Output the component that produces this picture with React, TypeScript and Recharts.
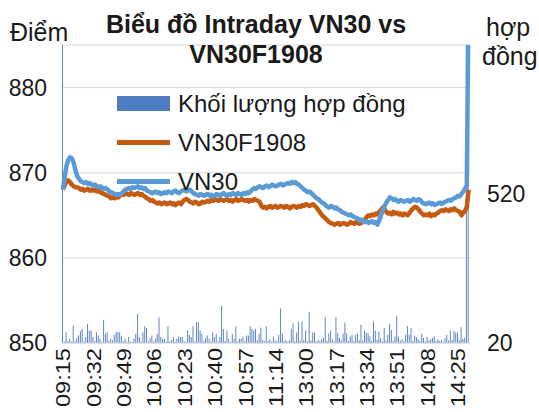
import { Bar, CartesianGrid, ComposedChart, Legend, Line, XAxis, YAxis } from "recharts";

const FONT = '"Liberation Sans", Arial, sans-serif';
const TEXT = "#1a1a1a";

// trading sessions, one point per minute, plus the ATC print
const SESSIONS: [string, string][] = [
  ["09:15", "11:30"],
  ["13:00", "14:30"],
];
const ATC_TIME = "14:45";

const VOLUME = [
  1100, 24, 56, 26, 34, 25, 78, 27, 37, 45,
  60, 67, 25, 40, 84, 62, 62, 40, 26, 56,
  45, 34, 24, 98, 51, 56, 27, 34, 29, 47,
  56, 58, 56, 43, 26, 34, 24, 40, 25, 23,
  34, 51, 117, 40, 24, 56, 76, 70, 26, 36,
  45, 25, 34, 51, 106, 40, 34, 34, 24, 76,
  25, 29, 40, 23, 34, 43, 40, 40, 26, 24,
  62, 47, 40, 76, 25, 90, 90, 62, 51, 27,
  36, 45, 34, 26, 56, 40, 51, 25, 40, 145,
  67, 27, 62, 34, 24, 51, 34, 76, 25, 34,
  34, 40, 26, 45, 45, 76, 67, 62, 67, 28,
  51, 72, 30, 26, 77, 28, 33, 25, 42, 28,
  26, 48, 136, 53, 27, 30, 24, 28, 67, 86,
  26, 55, 92, 27, 92, 30, 62, 26, 125, 28,
  55, 55, 25, 30, 26, 33, 37, 108, 27, 53,
  62, 33, 26, 106, 53, 37, 28, 51, 89, 53,
  27, 42, 48, 26, 48, 53, 29, 81, 28, 62,
  55, 53, 42, 27, 92, 62, 30, 59, 37, 26,
  70, 28, 48, 84, 64, 27, 42, 111, 42, 28,
  33, 26, 48, 77, 48, 70, 27, 44, 40, 33,
  26, 51, 37, 25, 40, 28, 33, 37, 42, 26,
  33, 27, 31, 24, 37, 48, 28, 62, 30, 62,
  55, 55, 30, 73, 34, 38, 1100, 1100,
];

const VN30F1908 = [
  868.0, 868.5, 869.0, 869.1, 868.9, 868.6, 868.4, 868.3, 868.3, 868.2,
  868.0, 868.1, 867.9, 868.0, 868.1, 867.9, 868.0, 867.9, 868.0, 867.8,
  867.9, 867.7, 867.6, 867.5, 867.4, 867.3, 867.2, 867.0, 867.1, 867.0,
  867.2, 867.1, 867.3, 867.5, 867.4, 867.6, 867.5, 867.4, 867.6, 867.5,
  867.4, 867.5, 867.6, 867.4, 867.5, 867.3, 867.2, 867.0, 866.9, 866.7,
  866.8, 866.6, 866.5, 866.4, 866.5, 866.3, 866.4, 866.5, 866.3, 866.4,
  866.5, 866.3, 866.4, 866.2, 866.4, 866.5, 866.3, 866.6, 866.8, 866.9,
  866.8, 866.6, 866.5, 866.4, 866.6, 866.5, 866.3, 866.4, 866.6, 866.5,
  866.6, 866.7, 866.6, 866.8, 866.7, 866.9, 866.8, 866.7, 866.9, 866.8,
  866.7, 866.8, 866.9, 866.7, 866.8, 866.6, 866.8, 866.9, 866.7, 866.8,
  866.9, 866.8, 866.7, 866.8, 866.6, 866.8, 866.7, 866.9, 866.8, 866.7,
  866.6, 866.1, 865.9, 866.0, 865.8, 866.0, 866.1, 865.9, 866.0, 866.1,
  865.9, 866.0, 866.1, 866.0, 865.9, 866.1, 866.0, 865.8, 866.0, 866.1,
  866.0, 865.9, 866.1, 866.0, 866.2, 866.1, 866.3, 866.2, 866.1, 866.2,
  866.3, 866.1, 865.9, 865.6, 865.3, 865.0, 864.8, 864.6, 864.4, 864.2,
  864.1, 864.0, 863.9, 864.0, 864.1, 863.9, 864.0, 864.1, 864.0, 863.9,
  864.0, 864.2, 864.1, 864.0, 864.2, 864.1, 864.0, 864.1, 864.3, 864.5,
  864.8, 865.0, 864.9, 865.1, 865.0, 865.2, 865.1, 865.4, 865.6, 865.9,
  865.7, 865.4, 865.2, 865.3, 865.1, 865.4, 865.2, 865.3, 865.1, 865.2,
  865.0, 865.2, 865.1, 865.0, 865.3, 865.6, 865.8, 866.0, 865.9, 865.7,
  865.4, 865.2, 865.0, 865.1, 865.0, 865.2, 864.9, 865.1, 865.0, 865.2,
  865.3, 865.5, 865.6, 865.5, 865.7, 865.6, 865.5, 865.7, 865.6, 865.8,
  865.6, 865.5, 865.4, 865.0, 865.3, 865.5, 866.0, 868.0,
];

const VN30 = [
  868.0, 869.5, 870.8, 871.5, 871.8, 871.7, 871.2, 870.3, 869.6, 869.3,
  869.0, 868.9, 868.8, 868.9, 868.7, 868.8, 868.6, 868.5, 868.6, 868.4,
  868.3, 868.4, 868.2, 868.1, 868.2, 868.0, 867.8, 867.7, 867.6, 867.5,
  867.4, 867.5, 867.4, 867.6, 867.8, 868.0, 868.1, 868.2, 868.1, 868.3,
  868.2, 868.3, 868.4, 868.2, 868.3, 868.1, 868.2, 867.9, 867.8, 867.7,
  867.6, 867.7, 867.8, 867.6, 867.7, 867.5, 867.6, 867.7, 867.6, 867.8,
  867.7, 867.6, 867.8, 867.9, 867.7, 867.6, 867.8, 867.9, 868.0, 867.8,
  867.9, 868.0, 867.8, 867.6, 867.5, 867.4, 867.3, 867.5, 867.4, 867.3,
  867.4, 867.5, 867.3, 867.4, 867.2, 867.3, 867.5, 867.4, 867.3, 867.5,
  867.6, 867.4, 867.3, 867.5, 867.4, 867.6, 867.5, 867.4, 867.6, 867.5,
  867.4, 867.6, 867.5, 867.7, 867.6, 867.8, 868.0, 868.2, 868.1, 868.3,
  868.4, 868.3, 868.2, 868.4, 868.5, 868.3, 868.4, 868.6, 868.5, 868.4,
  868.5, 868.6, 868.7, 868.5, 868.6, 868.7, 868.8, 868.7, 868.9, 868.8,
  868.9, 868.7, 868.6, 868.4, 868.2, 868.0, 867.9, 867.7, 867.8, 867.6,
  867.4, 867.2, 867.0, 866.9, 866.7, 866.5, 866.4, 866.2, 866.0, 865.9,
  866.1, 866.0, 865.8, 865.9, 865.7, 865.6, 865.4, 865.3, 865.2, 865.1,
  865.0, 865.1, 864.9, 864.8, 864.7, 864.6, 864.4, 864.5, 864.3, 864.2,
  864.3, 864.1, 864.2, 864.3, 864.1, 864.2, 863.9, 864.4, 865.0, 865.6,
  866.1, 866.5, 866.8, 867.1, 867.0, 866.8, 866.9, 866.7, 866.6, 866.8,
  866.7, 866.6, 866.7, 866.8, 866.6, 866.7, 866.9, 866.8, 866.7, 866.9,
  866.8, 866.5, 866.4, 866.3, 866.4, 866.5, 866.3, 866.4, 866.2, 866.3,
  866.4, 866.5, 866.3, 866.5, 866.6, 866.7, 866.8, 866.7, 866.9, 867.0,
  867.1, 867.3, 867.2, 867.5, 867.8, 868.1, 868.5, 892.0,
];

const LEFT_TICKS = [850, 860, 870, 880];
const RIGHT_TICKS = [20, 520];

const COLORS = { volume: "#5f86c8", vn30f: "#c55a11", vn30: "#5b9bd5" };

const LEGEND_ITEMS = [
  { label: "Khối lượng hợp đồng", color: "#4f7cc2", kind: "bar" },
  { label: "VN30F1908", color: COLORS.vn30f, kind: "line" },
  { label: "VN30", color: COLORS.vn30, kind: "line" },
];

const toMinutes = (t: string) => {
  const [h, m] = t.split(":").map(Number);
  return h * 60 + m;
};
const pad = (n: number) => String(n).padStart(2, "0");

const times: string[] = [];
for (const [start, end] of SESSIONS) {
  for (let m = toMinutes(start); m <= toMinutes(end); m++) times.push(`${pad(Math.floor(m / 60))}:${pad(m % 60)}`);
}
times.push(ATC_TIME);

const data = times.map((time, i) => ({
  time,
  volume: VOLUME[i],
  vn30f: VN30F1908[i],
  vn30: VN30[i],
}));

function TimeTick({ x, y, payload }: any) {
  const ty = y - 3;
  return (
    <text
      x={x}
      y={ty}
      dy="0.36em"
      transform={`rotate(-90, ${x}, ${ty})`}
      textAnchor="end"
      fontSize={20.5}
      textLength={59}
      lengthAdjust="spacingAndGlyphs"
      fontFamily={FONT}
      fill={TEXT}
    >
      {payload.value}
    </text>
  );
}

function ChartLegend() {
  return (
    <div style={{ fontFamily: FONT, fontSize: 24, color: TEXT }}>
      {LEGEND_ITEMS.map((item) => (
        <div key={item.label} style={{ display: "flex", alignItems: "center", height: 39 }}>
          <span
            style={{
              display: "inline-block",
              width: 53,
              height: item.kind === "bar" ? 15 : 5,
              background: item.color,
              marginRight: 8,
            }}
          />
          <span style={{ whiteSpace: "nowrap" }}>{item.label}</span>
        </div>
      ))}
    </div>
  );
}

const tickStyle = { fontSize: 23, fill: TEXT, fontFamily: FONT };

export default function App() {
  return (
    <div
      style={{
        position: "absolute",
        left: 0,
        top: 0,
        width: 539,
        height: 412,
        overflow: "hidden",
        background: "#fff",
        fontFamily: FONT,
        color: TEXT,
      }}
    >
      <ComposedChart
        width={539}
        height={412}
        data={data}
        margin={{ top: 45, right: 0, bottom: 0, left: 0 }}
        barCategoryGap={0}
      >
        <CartesianGrid yAxisId="left" vertical={false} stroke="#d9d9d9" />
        <XAxis
          dataKey="time"
          interval={16}
          height={69}
          axisLine={{ stroke: "#d9d9d9" }}
          tickLine={false}
          tick={<TimeTick />}
        />
        <YAxis
          yAxisId="left"
          domain={[850, 885]}
          ticks={LEFT_TICKS}
          allowDataOverflow
          width={62}
          axisLine={false}
          tickLine={false}
          tickMargin={9}
          tick={tickStyle}
        />
        <YAxis
          yAxisId="right"
          orientation="right"
          domain={[20, 1020]}
          ticks={RIGHT_TICKS}
          allowDataOverflow
          width={69.5}
          axisLine={false}
          tickLine={false}
          tickMargin={11.5}
          tick={tickStyle}
        />
        <Legend
          layout="vertical"
          align="center"
          verticalAlign="middle"
          wrapperStyle={{ top: 84, left: 117, width: 320 }}
          content={() => <ChartLegend />}
        />
        <Bar yAxisId="right" dataKey="volume" fill={COLORS.volume} barSize={1} isAnimationActive={false} />
        <Line
          yAxisId="left"
          dataKey="vn30f"
          stroke={COLORS.vn30f}
          strokeWidth={4.5}
          dot={false}
          strokeLinejoin="round"
          isAnimationActive={false}
        />
        <Line
          yAxisId="left"
          dataKey="vn30"
          stroke={COLORS.vn30}
          strokeWidth={4.5}
          dot={false}
          strokeLinejoin="round"
          isAnimationActive={false}
        />
      </ComposedChart>

      <div
        style={{
          position: "absolute",
          left: 0,
          top: 9,
          width: 512,
          textAlign: "center",
          fontSize: 25,
          fontWeight: "bold",
          lineHeight: "30px",
        }}
      >
        Biểu đồ Intraday VN30 vs
        <br />
        VN30F1908
      </div>
      <div style={{ position: "absolute", left: 10, top: 20, fontSize: 25, lineHeight: "25px" }}>Điểm</div>
      <div style={{ position: "absolute", left: 486, top: 15, fontSize: 25, lineHeight: "25px" }}>hợp</div>
      <div style={{ position: "absolute", left: 482, top: 44, fontSize: 25, lineHeight: "25px", whiteSpace: "nowrap" }}>
        đồng
      </div>
    </div>
  );
}
